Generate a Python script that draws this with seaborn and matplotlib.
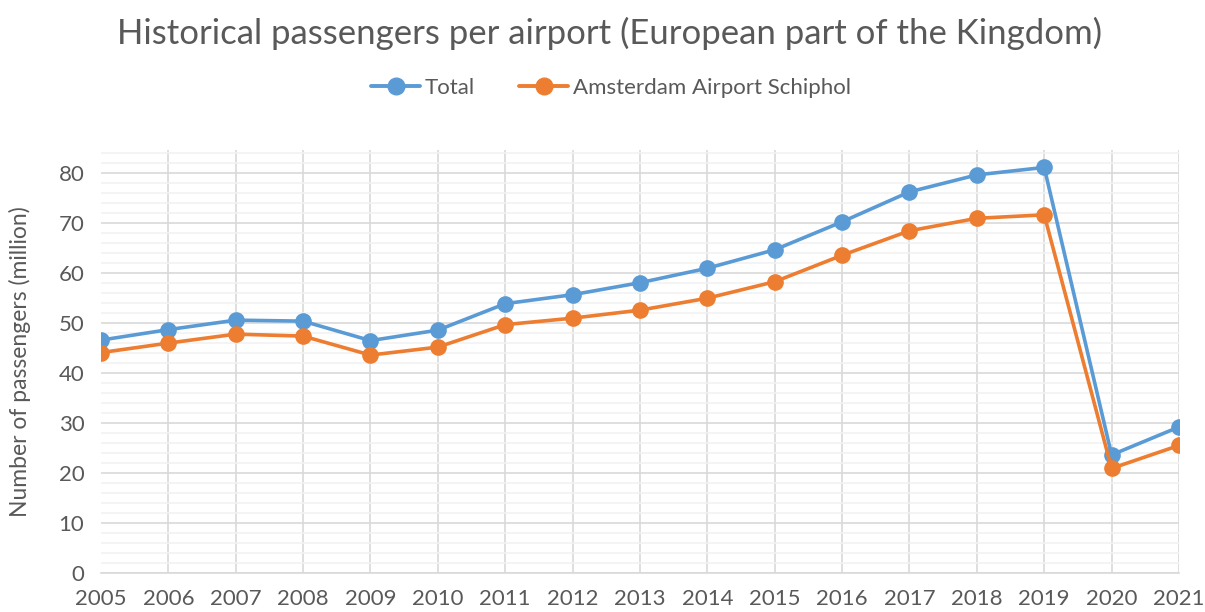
import matplotlib
matplotlib.use("Agg")
import matplotlib.pyplot as plt
from matplotlib.ticker import MultipleLocator
import pandas as pd
import seaborn as sns

# Data (millions of passengers)
years = list(range(2005, 2022))
total = [46.6, 48.7, 50.6, 50.4, 46.5, 48.6, 53.9, 55.7, 58.1, 61.0, 64.7,
         70.3, 76.3, 79.7, 81.2, 23.6, 29.2]
schiphol = [44.1, 46.0, 47.8, 47.4, 43.6, 45.2, 49.7, 51.0, 52.6, 55.0, 58.3,
            63.6, 68.5, 71.0, 71.7, 20.9, 25.5]
series_names = ["Total", "Amsterdam Airport Schiphol"]
colors = ["#5B9BD5", "#ED7D31"]

df = pd.DataFrame({
    "year": years * 2,
    "passengers": total + schiphol,
    "series": [series_names[0]] * len(years) + [series_names[1]] * len(years),
})

sns.set_style("white")
plt.rcParams["font.family"] = ["Lato", "DejaVu Sans"]
text_color = "#595959"

fig = plt.figure(figsize=(12.05, 6.12), dpi=100)
ax = fig.add_axes([0.0838, 0.0642, 0.8946, 0.6908])

sns.lineplot(data=df, x="year", y="passengers", hue="series",
             palette=dict(zip(series_names, colors)), marker="o",
             markersize=12, markeredgewidth=0, linewidth=2.6, ax=ax,
             legend=False)

ax.set_xlim(2005, 2021)
ax.set_ylim(0, 84.7)
ax.set_xticks(years)
ax.yaxis.set_major_locator(MultipleLocator(10))
ax.yaxis.set_minor_locator(MultipleLocator(2))
ax.grid(axis="y", which="minor", color="#F2F2F2", linewidth=1.2)
ax.grid(axis="y", which="major", color="#D9D9D9", linewidth=1.2)
ax.grid(axis="x", which="major", color="#D9D9D9", linewidth=1.2)
ax.set_axisbelow(True)
ax.xaxis.get_gridlines()[0].set_visible(False)
for side in ["top", "right", "left"]:
    ax.spines[side].set_visible(False)
ax.spines["bottom"].set_color("#D9D9D9")
ax.spines["bottom"].set_linewidth(1.2)
ax.tick_params(axis="both", which="both", length=0, labelsize=16,
               labelcolor=text_color)
ax.tick_params(axis="x", pad=12)
ax.tick_params(axis="y", pad=12)
ax.set_xlabel("")
ax.set_ylabel("Number of passengers (million)", fontsize=16.5,
              color=text_color)
ax.yaxis.set_label_coords(-0.065, 0.5)

fig.suptitle("Historical passengers per airport (European part of the Kingdom)",
             x=0.506, y=0.972, fontsize=25, color=text_color)

handles = [plt.Line2D([], [], color=c, marker="o", markersize=12,
                      linewidth=2.8) for c in colors]
fig.legend(handles, series_names, loc="center", bbox_to_anchor=(0.507, 0.856),
           ncol=2, frameon=False, fontsize=16, labelcolor=text_color,
           handlelength=2.2, handletextpad=0.2, columnspacing=2.0)

fig.savefig("out.png", dpi=100)
